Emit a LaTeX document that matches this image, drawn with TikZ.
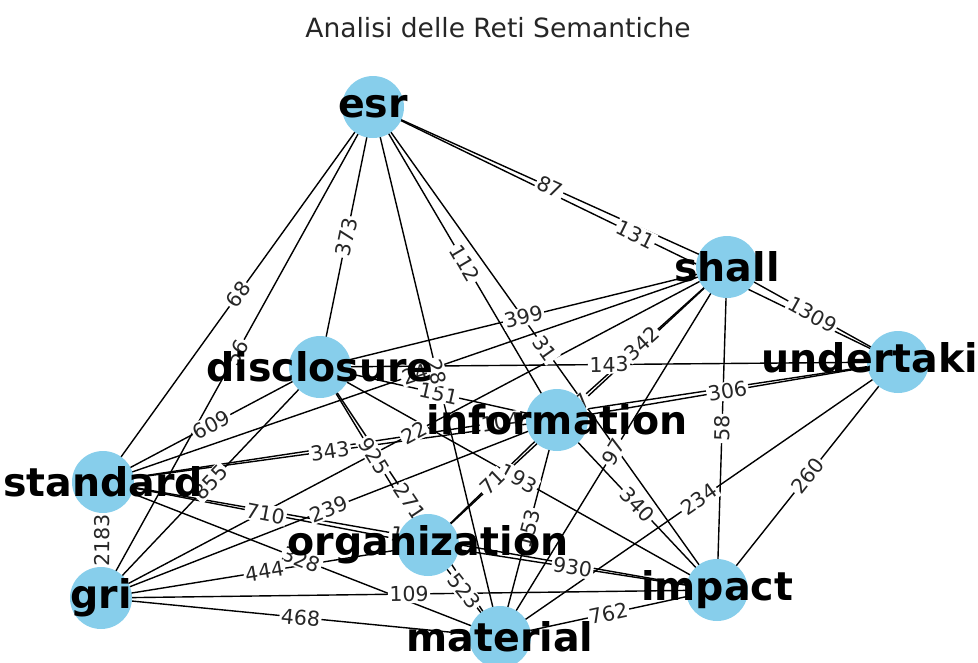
\documentclass[tikz,border=0pt]{standalone}
\usepackage{fontspec}
\setmainfont{DejaVu Sans}
\definecolor{NodeClr}{HTML}{87CEEB}

% edges of the network: from/to/weight
\def\edgelist{esr/shall/87,esr/undert/131,esr/stand/68,esr/gri/56,esr/disc/373,
  esr/info/112,esr/impact/31,shall/undert/1309,shall/disc/399,shall/stand/24,
  shall/gri/22,shall/org/17,shall/mater/97,shall/impact/58,disc/undert/143,
  shall/info/342,info/undert/306,stand/undert/104,undert/impact/260,undert/mater/234,
  disc/info/151,esr/mater/28,disc/stand/609,disc/gri/855,disc/org/925,disc/mater/271,
  disc/impact/193,info/stand/343,info/gri/239,info/org/71,info/mater/153,
  info/impact/340,stand/gri/2183,stand/org/710,stand/mater/328,stand/impact/127,
  gri/org/444,gri/mater/468,gri/impact/109,org/mater/523,org/impact/930,
  mater/impact/762}

\tikzset{
  vtx/.style={circle,fill=NodeClr,minimum size=62pt,inner sep=0pt},
  word/.style={font=\fontsize{39.5}{41}\selectfont\bfseries,inner sep=0pt},
  wt/.style={font=\fontsize{20.5}{22}\selectfont,fill=white,inner sep=1.5pt,
    sloped,text=black!85},
  link/.style={line width=1.4pt,black},
}

\begin{document}
\begin{tikzpicture}[x=1pt,y=-1pt]
\useasboundingbox (0,0) rectangle (978,662);
\clip (0,0) rectangle (978,662);

\node[font=\fontsize{26.5}{28}\selectfont,text=black!85] (title) at (498,28) {Analisi delle Reti Semantiche};

% nodes
\coordinate (esr) at (373,107);
\coordinate (shall) at (727,267);
\coordinate (undert) at (898,362);
\coordinate (disc) at (320,367);
\coordinate (info) at (557,420);
\coordinate (stand) at (103,482);
\coordinate (org) at (428,545);
\coordinate (gri) at (101,598);
\coordinate (impact) at (717,590);
\coordinate (mater) at (500,637);

\foreach \a/\b/\w in \edgelist
  \draw[link] (\a) -- (\b);
\foreach \a/\b/\w in \edgelist
  \path (\a) -- node[wt] {\w} (\b);

\foreach \p in {esr,shall,undert,disc,info,stand,org,gri,impact,mater}
  \node[vtx] (c-\p) at (\p) {};

% words
\node[word] (t-esr) at (esr) {esr};
\node[word] (t-shall) at (shall) {shall};
\node[word] (t-undert) at (undert) {undertaking};
\node[word] (t-disc) at (disc) {disclosure};
\node[word] (t-info) at (info) {information};
\node[word] (t-stand) at (stand) {standard};
\node[word] (t-org) at (org) {organization};
\node[word] (t-gri) at (gri) {gri};
\node[word] (t-impact) at (impact) {impact};
\node[word] (t-mater) at (mater) {material};
\end{tikzpicture}
\end{document}
